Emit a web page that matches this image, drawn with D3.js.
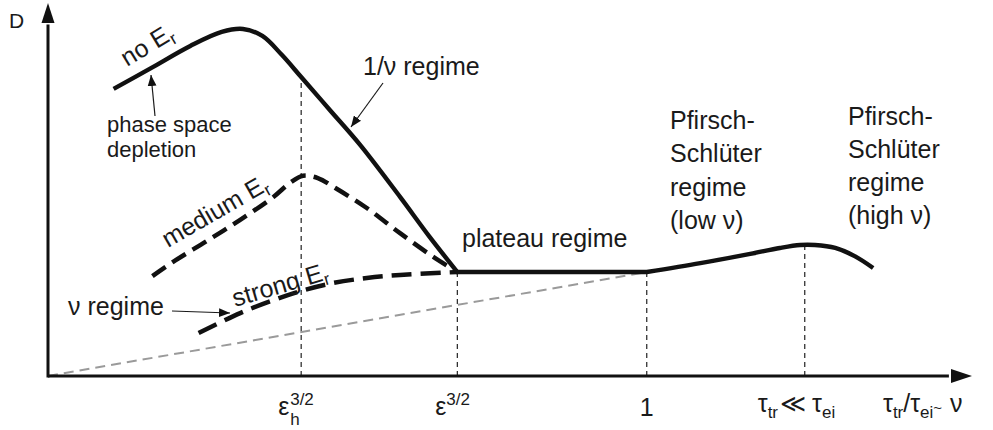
<!DOCTYPE html>
<html>
<head>
<meta charset="utf-8">
<script src="https://cdn.jsdelivr.net/npm/d3@7"></script>
<style>
  html, body { margin: 0; padding: 0; background: #fff; }
  svg { display: block; font-family: "Liberation Sans", Arial, Helvetica, sans-serif; }
</style>
</head>
<body>
<svg id="chart" width="993" height="430"></svg>
<script>
// Schematic diffusion coefficient D versus collisionality (arbitrary units, 0..100 on both axes)

// regime boundaries on the collisionality axis
const tickKeys = ["epsH", "eps", "one", "tauRatio"];
const tickPositions = [27.4, 44.3, 64.8, 81.9];
const guideTops = [79.5, 28.1, 28.1, 35.4];

// no radial field: phase-space depletion peak, then the 1/nu branch down to the plateau
const noErCurve = [[7.1, 77.6], [11.0, 83.0], [15.4, 89.2], [18.8, 93.0], [21.1, 93.8],
  [23.2, 91.9], [25.3, 86.8], [27.4, 80.8], [30.5, 71.9], [33.8, 62.4], [38.1, 48.4],
  [41.3, 37.6], [44.3, 28.1]];
// plateau regime
const plateauLine = [[44.3, 28.1], [64.8, 28.1]];
// Pfirsch-Schlüter branch
const psCurve = [[64.8, 28.1], [70.6, 30.5], [76.0, 33.0], [79.2, 34.6], [81.4, 35.4],
  [83.0, 35.4], [85.2, 34.6], [87.3, 32.4], [89.3, 29.2]];
// medium radial electric field
const mediumEr = [[11.3, 27.0], [13.5, 30.8], [17.2, 36.5], [20.8, 42.2], [24.4, 48.4],
  [26.2, 52.2], [27.6, 54.1], [29.2, 53.5], [31.1, 50.8], [34.5, 45.4], [38.1, 38.6],
  [41.7, 32.2], [44.3, 28.1]];
// strong radial electric field (nu regime)
const strongEr = [[16.3, 11.6], [20.8, 17.0], [24.4, 20.5], [27.4, 23.0], [30.8, 25.1],
  [34.5, 26.5], [38.1, 27.3], [44.3, 28.1]];
// linear-in-nu reference line
const nuLine = [[0, 0], [64.8, 28.1]];

const svg = d3.select("#chart");
const x = d3.scaleLinear().domain([0, 100]).range([48, 972]);
const y = d3.scaleLinear().domain([0, 100]).range([376, 6]);

svg.append("rect").attr("width", 993).attr("height", 430).attr("fill", "#fff");

const defs = svg.append("defs");
defs.append("marker")
  .attr("id", "tip").attr("viewBox", "0 0 10 8")
  .attr("refX", 10).attr("refY", 4)
  .attr("markerWidth", 11).attr("markerHeight", 9)
  .attr("markerUnits", "userSpaceOnUse")
  .attr("orient", "auto")
  .append("path").attr("d", "M0,0L10,4L0,8Z").attr("fill", "#111");

const smooth = d3.line().x(d => x(d[0])).y(d => y(d[1])).curve(d3.curveCatmullRom.alpha(0.5));
const straight = d3.line().x(d => x(d[0])).y(d => y(d[1]));

// vertical guides at the regime boundaries
svg.append("g").selectAll("line")
  .data(tickPositions)
  .join("line")
  .attr("x1", d => x(d)).attr("x2", d => x(d))
  .attr("y1", y(0)).attr("y2", (d, i) => y(guideTops[i]))
  .attr("stroke", "#222").attr("stroke-width", 1.2)
  .attr("stroke-dasharray", "5,4");

// grey reference line
svg.append("path").attr("d", straight(nuLine))
  .attr("fill", "none").attr("stroke", "#9a9a9a").attr("stroke-width", 2)
  .attr("stroke-dasharray", "10,6");

// dashed E_r curves
svg.append("path").attr("d", smooth(mediumEr))
  .attr("fill", "none").attr("stroke", "#111").attr("stroke-width", 4.5)
  .attr("stroke-dasharray", "16,8");
svg.append("path").attr("d", smooth(strongEr))
  .attr("fill", "none").attr("stroke", "#111").attr("stroke-width", 4.5)
  .attr("stroke-dasharray", "20,9");

// solid curve: no E_r / 1/nu, plateau, Pfirsch-Schlüter
const solidD = smooth(noErCurve)
  + straight(plateauLine).replace(/^M/, "L")
  + smooth(psCurve).replace(/^M/, "L");
svg.append("path").attr("d", solidD)
  .attr("fill", "none").attr("stroke", "#111").attr("stroke-width", 4.4)
  .attr("stroke-linejoin", "miter");

// axes with arrow heads
const ax = svg.append("g");
ax.append("line").attr("x1", x(0)).attr("x2", x(97.5)).attr("y1", y(0)).attr("y2", y(0))
  .attr("stroke", "#111").attr("stroke-width", 3);
ax.append("line").attr("x1", x(0)).attr("x2", x(0)).attr("y1", y(0) + 1.5).attr("y2", y(95))
  .attr("stroke", "#111").attr("stroke-width", 3);
ax.append("path")
  .attr("d", `M${x(100)},${y(0)}L${x(100) - 21},${y(0) - 7}L${x(100) - 21},${y(0) + 7}Z`)
  .attr("fill", "#111");
ax.append("path")
  .attr("d", `M${x(0)},${y(100) - 3}L${x(0) - 6.5},${y(100) + 17}L${x(0) + 6.5},${y(100) + 17}Z`)
  .attr("fill", "#111");

const fg = "#1a1a1a";
function label(px, py, str, size) {
  return svg.append("text").attr("x", px).attr("y", py)
    .attr("font-size", size).attr("fill", fg).text(str);
}
function withSub(g, main, sub, size, subSize, shift) {
  const t = g.append("text").attr("font-size", size).attr("fill", fg);
  t.append("tspan").text(main);
  t.append("tspan").attr("font-size", subSize).attr("dy", shift).text(sub);
  return t;
}

// axis name
label(9, 28, "D", 21);

// curve names along the curves
withSub(svg.append("g").attr("transform", "translate(127,67) rotate(-31)"), "no E", "r", 25, 17, 5);
withSub(svg.append("g").attr("transform", "translate(168,248) rotate(-30)"), "medium E", "r", 25, 17, 5);
withSub(svg.append("g").attr("transform", "translate(235,307) rotate(-16.5)"), "strong E", "r", 25, 17, 5);

// regime annotations
label(107, 132, "phase space", 22);
label(107, 157, "depletion", 22);
svg.append("line").attr("x1", 155).attr("y1", 116).attr("x2", 151).attr("y2", 75)
  .attr("stroke", fg).attr("stroke-width", 1.2).attr("marker-end", "url(#tip)");

label(363, 75, "1/\u03bd regime", 25);
svg.append("line").attr("x1", 383).attr("y1", 83).attr("x2", 351).attr("y2", 127)
  .attr("stroke", fg).attr("stroke-width", 1.2).attr("marker-end", "url(#tip)");

label(68, 315, "\u03bd regime", 25);
svg.append("line").attr("x1", 172).attr("y1", 311).attr("x2", 230).attr("y2", 313)
  .attr("stroke", fg).attr("stroke-width", 1.2).attr("marker-end", "url(#tip)");

label(462, 247, "plateau regime", 25);

const psLow = ["Pfirsch-", "Schl\u00fcter", "regime", "(low \u03bd)"];
const psHigh = ["Pfirsch-", "Schl\u00fcter", "regime", "(high \u03bd)"];
psLow.forEach((s, i) => label(670, 129 + i * 33.3, s, 25));
psHigh.forEach((s, i) => label(848, 125 + i * 33, s, 25));

// tick labels
const base = 415;
const tEpsH = x(tickPositions[0]);
label(tEpsH - 23, base, "\u03b5", 25);
label(tEpsH - 11, base - 10, "3/2", 17);
label(tEpsH - 11, base + 10, "h", 17);

const tEps = x(tickPositions[1]);
label(tEps - 22, base, "\u03b5", 25);
label(tEps - 11, base - 10, "3/2", 17);

svg.append("text").attr("x", x(tickPositions[2])).attr("y", 416)
  .attr("text-anchor", "middle").attr("font-size", 25).attr("fill", fg).text("1");

const tTau = x(tickPositions[3]);
{
  const t = svg.append("text").attr("x", tTau - 47).attr("y", 412).attr("font-size", 25).attr("fill", fg);
  t.append("tspan").text("\u03c4");
  t.append("tspan").attr("font-size", 17).attr("dy", 6).text("tr");
  t.append("tspan").attr("dy", -6).attr("dx", 2).text("\u226a");
  t.append("tspan").attr("dx", 6).text("\u03c4");
  t.append("tspan").attr("font-size", 17).attr("dy", 6).text("ei");
}
{
  const t = svg.append("text").attr("x", 883).attr("y", 412).attr("font-size", 25).attr("fill", fg);
  t.append("tspan").text("\u03c4");
  t.append("tspan").attr("font-size", 17).attr("dy", 6).text("tr");
  t.append("tspan").attr("dy", -6).text("/\u03c4");
  t.append("tspan").attr("font-size", 17).attr("dy", 6).text("ei");
  t.append("tspan").attr("font-size", 15).attr("dy", -5).text("~");
  t.append("tspan").attr("dy", -1).attr("dx", 8).text("\u03bd");
}
</script>
</body>
</html>
